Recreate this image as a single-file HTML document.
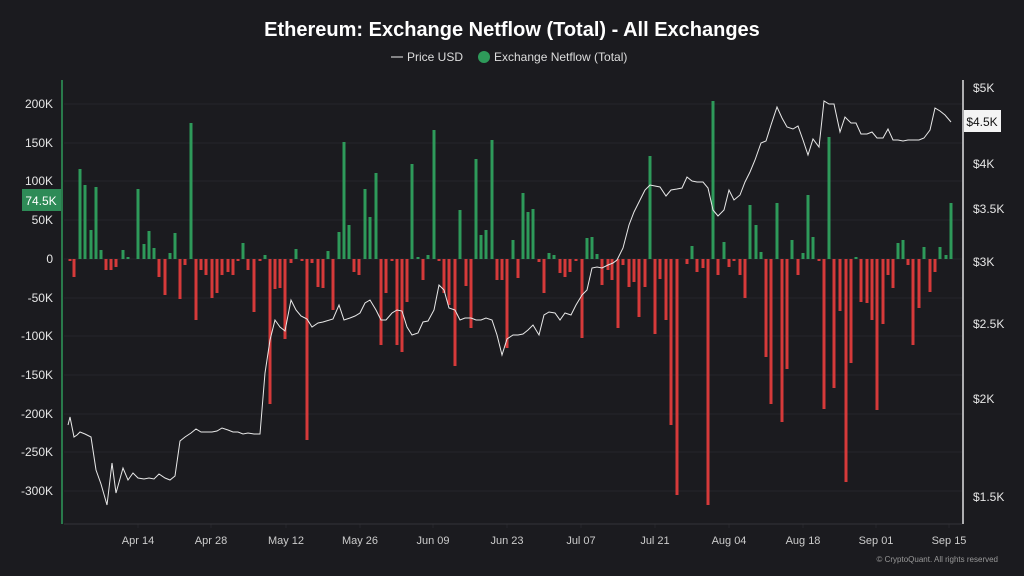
<!DOCTYPE html>
<html><head><meta charset="utf-8"><style>
html,body{margin:0;padding:0;background:#1b1b1f;}
svg{display:block;font-family:"Liberation Sans",sans-serif;}
</style></head><body>
<svg id="s" width="1024" height="576" viewBox="0 0 1024 576" xmlns="http://www.w3.org/2000/svg">
<rect width="1024" height="576" fill="#1b1b1f"/>
<text x="512" y="36" fill="#fff" font-size="20" font-weight="bold" text-anchor="middle">Ethereum: Exchange Netflow (Total) - All Exchanges</text>
<line x1="391" y1="57" x2="403" y2="57" stroke="#ccc" stroke-width="1.2"/>
<text x="407" y="61" fill="#ddd" font-size="12">Price USD</text>
<circle cx="484" cy="57" r="6" fill="#2e9a5a"/>
<text x="494" y="61" fill="#ddd" font-size="12">Exchange Netflow (Total)</text>
<g id="grid" stroke="#26262b" stroke-width="1"></g>
<g id="bars"></g>
<polyline id="price" fill="none" stroke="#e8e8e8" stroke-width="1"/>
<line x1="62" y1="80" x2="62" y2="524" stroke="#2e9a5a" stroke-width="1.5"/>
<line x1="963" y1="80" x2="963" y2="524" stroke="#e0e0e0" stroke-width="1.5"/>
<line x1="64" y1="524" x2="962" y2="524" stroke="#333338" stroke-width="1"/>
<g id="lab" fill="#e6e6e6" font-size="12"></g>
<rect x="22" y="189" width="39" height="22" fill="#2e8b57"/>
<text x="41" y="205" fill="#fff" font-size="12" text-anchor="middle">74.5K</text>
<rect x="964" y="110" width="37" height="22" fill="#f4f4f4"/>
<text x="982" y="126" fill="#111" font-size="12" text-anchor="middle">$4.5K</text>
<text x="998" y="562" fill="#999" font-size="8" text-anchor="end">© CryptoQuant. All rights reserved</text>
</svg>
<script>
var NS="http://www.w3.org/2000/svg";
function el(t,a,p,txt){var e=document.createElementNS(NS,t);for(var k in a)e.setAttribute(k,a[k]);if(txt)e.textContent=txt;document.getElementById(p).appendChild(e);return e;}
var lv=[["200K",104],["150K",143],["100K",181],["50K",220],["0",259],["-50K",298],["-100K",336],["-150K",375],["-200K",414],["-250K",452],["-300K",491]];
lv.forEach(function(a){el("line",{x1:64,x2:962,y1:a[1],y2:a[1]},"grid");el("text",{x:53,y:a[1]+4,"text-anchor":"end"},"lab",a[0]);});
[["$5K",87],["$4K",163],["$3.5K",208],["$3K",261],["$2.5K",323],["$2K",398],["$1.5K",496]].forEach(function(a){el("text",{x:973,y:a[1]+5},"lab",a[0]);});
[["Apr 14",138],["Apr 28",211],["May 12",286],["May 26",360],["Jun 09",433],["Jun 23",507],["Jul 07",581],["Jul 21",655],["Aug 04",729],["Aug 18",803],["Sep 01",876],["Sep 15",949]].forEach(function(a){el("text",{x:a[1],y:544,"text-anchor":"middle","font-size":"11",fill:"#ccc"},"lab",a[0]);el("line",{x1:a[1],x2:a[1],y1:524,y2:528},"grid");});
var b=[[70,261],[74,277],[80,169],[85,185],[91,230],[96,187],[101,250],[106,270],[111,270],[116,267],[123,250],[128,257],[138,189],[144,244],[149,231],[154,248],[159,277],[165,295],[170,253],[175,233],[180,299],[185,265],[191,123],[196,320],[201,270],[206,275],[212,298],[217,293],[222,275],[228,272],[233,275],[238,261],[243,243],[248,270],[254,312],[260,261],[265,255],[270,404],[275,289],[280,288],[285,339],[291,263],[296,249],[302,261],[307,440],[312,263],[318,287],[323,288],[328,251],[333,310],[339,232],[344,142],[349,225],[354,272],[359,275],[365,189],[370,217],[376,173],[381,345],[386,293],[392,261],[397,345],[402,352],[407,302],[412,164],[418,257],[423,280],[428,255],[434,130],[439,261],[444,293],[449,305],[455,366],[460,210],[466,286],[471,328],[476,159],[481,235],[486,230],[492,140],[497,280],[502,280],[507,348],[513,240],[518,278],[523,193],[528,212],[533,209],[539,262],[544,293],[549,253],[554,255],[560,273],[565,277],[570,272],[576,261],[582,338],[587,238],[592,237],[597,254],[602,285],[608,270],[612,280],[618,328],[623,265],[629,287],[634,282],[639,317],[645,287],[650,156],[655,334],[660,279],[666,320],[671,425],[677,495],[687,264],[692,246],[697,272],[703,268],[708,505],[713,101],[718,275],[724,242],[729,267],[734,261],[740,275],[745,298],[750,205],[756,225],[761,252],[766,357],[771,404],[777,203],[782,422],[787,369],[792,240],[798,275],[803,253],[808,195],[813,237],[819,261],[824,409],[829,137],[834,388],[840,311],[846,482],[851,363],[856,257],[861,302],[867,303],[872,320],[877,410],[883,324],[888,275],[893,288],[898,243],[903,240],[908,265],[913,345],[919,308],[924,247],[930,292],[935,272],[940,247],[946,255],[951,203]];
b.forEach(function(p){var y1=Math.min(259,p[1]),h=Math.max(1,Math.abs(p[1]-259));el("rect",{x:p[0]-1.5,y:y1,width:3,height:h,fill:p[1]<259?"#2e9a5a":"#d63a3a"},"bars");});
var pr=[[68,425],[70,417],[74,437],[77,435],[80,432],[85,434],[91,437],[96,470],[101,484],[107,505],[112,463],[116,493],[123,468],[128,480],[133,473],[138,478],[144,479],[149,478],[154,479],[159,474],[165,478],[170,480],[175,476],[180,441],[185,437],[191,433],[196,429],[201,432],[207,432],[212,432],[217,431],[222,428],[228,430],[233,432],[238,432],[243,434],[248,433],[254,434],[260,434],[265,373],[270,340],[275,320],[280,327],[285,331],[291,300],[296,310],[301,316],[307,319],[312,327],[318,323],[323,322],[333,319],[339,305],[344,320],[350,318],[355,316],[360,313],[365,303],[370,300],[376,310],[381,320],[386,320],[392,313],[397,310],[402,311],[407,327],[412,335],[418,333],[423,322],[428,321],[434,310],[439,285],[444,290],[449,308],[455,310],[460,320],[465,318],[471,318],[476,320],[481,320],[486,318],[492,320],[497,335],[502,355],[507,339],[513,335],[518,335],[523,334],[528,330],[533,325],[539,335],[544,315],[549,312],[555,313],[560,320],[565,313],[571,315],[576,305],[582,295],[587,290],[592,268],[597,267],[602,268],[608,265],[613,263],[617,260],[623,248],[629,225],[634,212],[640,200],[645,190],[650,185],[655,186],[660,187],[666,196],[671,190],[677,189],[682,188],[687,177],[692,181],[697,182],[703,182],[708,188],[713,210],[718,216],[724,210],[729,190],[734,200],[740,195],[745,182],[750,172],[755,160],[761,143],[766,141],[771,125],[777,107],[782,118],[787,127],[793,129],[798,126],[803,140],[808,155],[813,139],[819,147],[824,101],[829,104],[834,104],[840,132],[845,117],[851,123],[856,123],[861,134],[867,134],[872,132],[877,138],[883,138],[888,129],[893,140],[898,140],[903,141],[908,140],[913,140],[919,140],[924,138],[930,130],[935,108],[940,111],[945,115],[951,122]];
document.getElementById("price").setAttribute("points",pr.map(function(p){return p.join(",");}).join(" "));
</script>
</body></html>
